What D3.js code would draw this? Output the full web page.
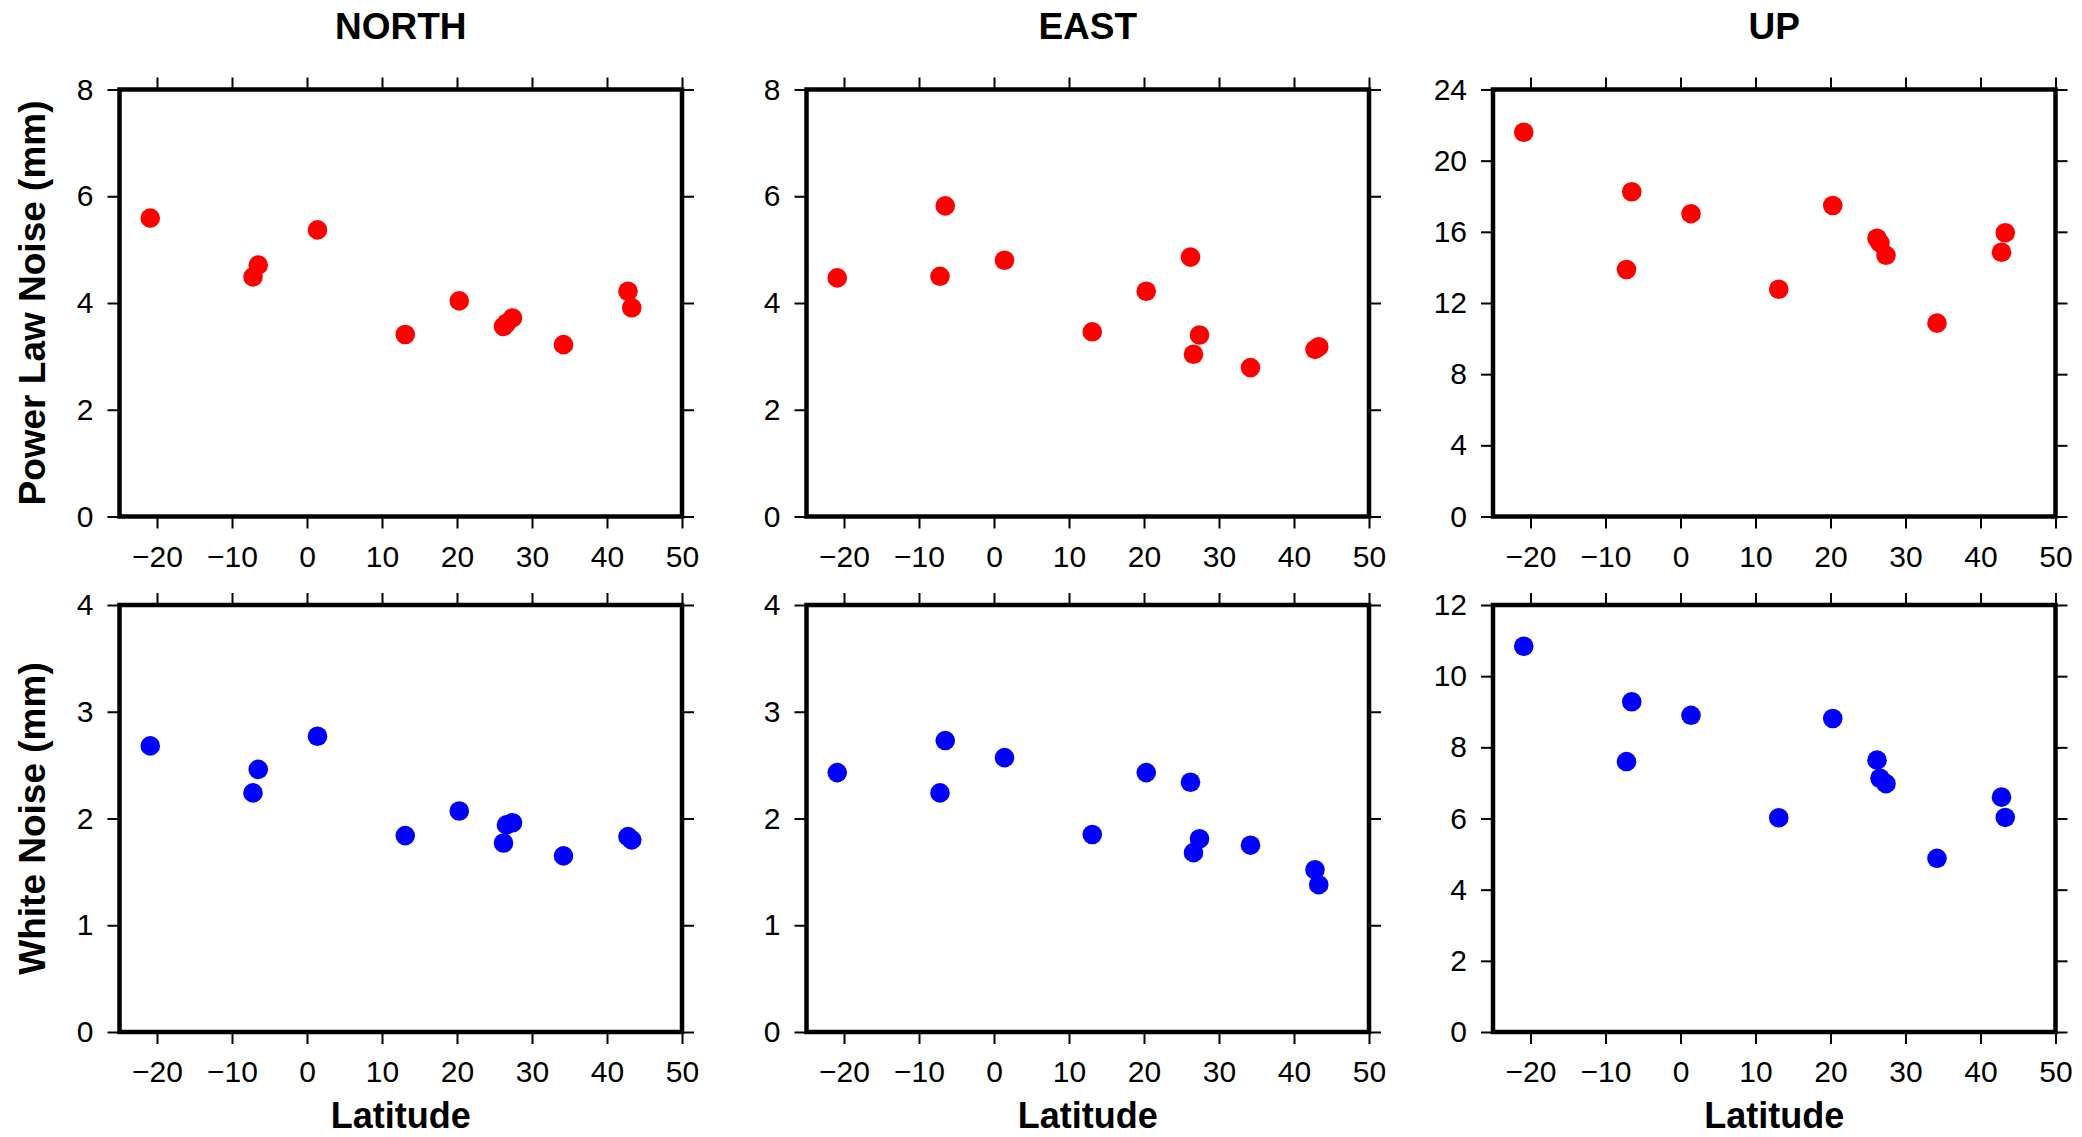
<!DOCTYPE html>
<html>
<head>
<meta charset="utf-8">
<script src="https://cdn.jsdelivr.net/npm/d3@7"></script>
<style>
  html, body { margin: 0; padding: 0; background: #fff; }
  svg { display: block; }
  text { font-family: "Liberation Sans", Arial, Helvetica, sans-serif; fill: #000; }
</style>
</head>
<body>
<svg id="chart" width="2082" height="1137"></svg>
<script>
// Station latitudes (shared by every panel)
const latitude = [-20.9, -7.2, -6.5, 1.4, 13.1, 20.3, 26.2, 26.6, 27.4, 34.2, 42.8, 43.3];

// Power-law noise amplitudes (mm)
const northPL = [5.59, 4.49, 4.71, 5.37, 3.41, 4.04, 3.56, 3.62, 3.72, 3.22, 4.22, 3.91];
const eastPL  = [4.47, 4.50, 5.82, 4.80, 3.46, 4.22, 4.86, 3.04, 3.40, 2.79, 3.13, 3.18];
const upPL    = [21.6, 13.88, 18.25, 17.02, 12.77, 17.48, 15.64, 15.38, 14.68, 10.87, 14.85, 15.95];

// White noise amplitudes (mm)
const northWN = [2.68, 2.24, 2.46, 2.77, 1.84, 2.07, 1.77, 1.94, 1.96, 1.65, 1.83, 1.80];
const eastWN  = [2.43, 2.24, 2.73, 2.57, 1.85, 2.43, 2.34, 1.68, 1.81, 1.75, 1.52, 1.38];
const upWN    = [10.84, 7.60, 9.28, 8.90, 6.02, 8.81, 7.64, 7.13, 6.98, 4.88, 6.60, 6.03];

// Axis settings
const components = ["NORTH", "EAST", "UP"];
const rowLabels = ["Power Law Noise (mm)", "White Noise (mm)"];
const xLabel = "Latitude";
const xDomain = [-25, 50];
const xTicks = [-20, -10, 0, 10, 20, 30, 40, 50];
const yDomains = [[[0, 8], [0, 8], [0, 24]], [[0, 4], [0, 4], [0, 12]]];
const yTicks = [
  [[0, 2, 4, 6, 8], [0, 2, 4, 6, 8], [0, 4, 8, 12, 16, 20, 24]],
  [[0, 1, 2, 3, 4], [0, 1, 2, 3, 4], [0, 2, 4, 6, 8, 10, 12]]
];
const values = [[northPL, eastPL, upPL], [northWN, eastWN, upWN]];
const colors = ["#ff0000", "#0000ff"];

// Panel geometry
const colLeft = [119.5, 806.5, 1493];
const panelW = 562.5;
const rowTop = [89.5, 605];
const panelH = 427;
const tickLen = 12;
const intFmt = d3.format("d");

const svg = d3.select("#chart");

for (let r = 0; r < 2; r++) {
  for (let c = 0; c < 3; c++) {
    const x0 = colLeft[c], y0 = rowTop[r];
    const g = svg.append("g").attr("transform", `translate(${x0},${y0})`);
    const x = d3.scaleLinear().domain(xDomain).range([0, panelW]);
    const y = d3.scaleLinear().domain(yDomains[r][c]).range([panelH, 0]);

    const styleAxis = sel => {
      sel.select(".domain").remove();
      sel.selectAll(".tick line").attr("stroke", "#000").attr("stroke-width", 2);
      sel.selectAll(".tick text")
        .style("font-family", '"Liberation Sans", Arial, sans-serif')
        .style("font-size", "30px")
        .attr("fill", "#000");
    };

    // bottom axis with labels
    g.append("g").attr("transform", `translate(0,${panelH})`)
      .call(d3.axisBottom(x).tickValues(xTicks).tickFormat(intFmt)
        .tickSize(tickLen).tickSizeOuter(0).tickPadding(17))
      .call(styleAxis);
    // top axis, ticks only
    g.append("g")
      .call(d3.axisTop(x).tickValues(xTicks).tickSize(tickLen).tickSizeOuter(0).tickFormat(""))
      .call(styleAxis);
    // left axis with labels
    g.append("g")
      .call(d3.axisLeft(y).tickValues(yTicks[r][c]).tickFormat(intFmt)
        .tickSize(tickLen).tickSizeOuter(0).tickPadding(14))
      .call(styleAxis);
    // right axis, ticks only
    g.append("g").attr("transform", `translate(${panelW},0)`)
      .call(d3.axisRight(y).tickValues(yTicks[r][c]).tickSize(tickLen).tickSizeOuter(0).tickFormat(""))
      .call(styleAxis);

    // frame
    g.append("rect")
      .attr("x", 0).attr("y", 0)
      .attr("width", panelW).attr("height", panelH)
      .attr("fill", "none").attr("stroke", "#000").attr("stroke-width", 4.5);

    // points
    g.append("g").selectAll("circle")
      .data(latitude.map((lat, i) => [lat, values[r][c][i]]))
      .join("circle")
      .attr("cx", d => x(d[0]))
      .attr("cy", d => y(d[1]))
      .attr("r", 9.8)
      .attr("fill", colors[r]);

    // column titles
    if (r === 0) {
      svg.append("text")
        .attr("x", x0 + panelW / 2).attr("y", 39)
        .attr("text-anchor", "middle")
        .style("font-size", "37px").style("font-weight", "bold")
        .text(components[c]);
    }
    // x-axis title
    if (r === 1) {
      svg.append("text")
        .attr("x", x0 + panelW / 2).attr("y", 1128)
        .attr("text-anchor", "middle")
        .style("font-size", "36px").style("font-weight", "bold")
        .text(xLabel);
    }
    // row titles
    if (c === 0) {
      svg.append("text")
        .attr("transform", `translate(44.5,${y0 + panelH / 2}) rotate(-90)`)
        .attr("text-anchor", "middle")
        .style("font-size", "37px").style("font-weight", "bold")
        .text(rowLabels[r]);
    }
  }
}
</script>
</body>
</html>
